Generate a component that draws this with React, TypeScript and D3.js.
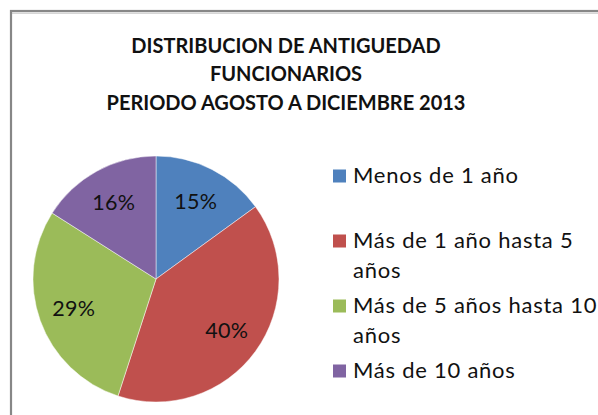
import React from "react";
import * as d3 from "d3";

const categories: string[][] = [
  ["Menos de 1 año"],
  ["Más de 1 año hasta 5", "años"],
  ["Más de 5 años hasta 10", "años"],
  ["Más de 10 años"],
];
const values: number[] = [15, 40, 29, 16];
const colors: string[] = ["#4F81BD", "#C0504D", "#9BBB59", "#8064A2"];
const titleLines: string[] = [
  "DISTRIBUCION DE ANTIGUEDAD",
  "FUNCIONARIOS",
  "PERIODO AGOSTO A DICIEMBRE 2013",
];

const W = 598;
const H = 415;
const FONT = "Lato, 'Open Sans', sans-serif";

export default function App() {
  const cx = 156;
  const cy = 279;
  const r = 123;
  const pie = d3.pie<number>().sort(null).value((d) => d);
  const arcs = pie(values);
  const arc = d3.arc<d3.PieArcDatum<number>>().innerRadius(0).outerRadius(r);
  const labelArc = d3
    .arc<d3.PieArcDatum<number>>()
    .innerRadius(87.5)
    .outerRadius(87.5);
  const total = d3.sum(values);
  const fmt = d3.format(".0%");

  const legendX = 333;
  const legendY0 = 183;
  const legendStep = 65;
  const lineH = 30;

  return (
    <svg
      width={W}
      height={H}
      style={{ position: "absolute", left: 0, top: 0, background: "#fff" }}
    >
      <rect x={0} y={0} width={W} height={H} fill="#fff" />
      <line x1={12} x2={W} y1={13.2} y2={13.2} stroke="#d6d6d6" strokeWidth={1.5} />
      <rect
        x={11}
        y={11}
        width={W + 20}
        height={H + 20}
        fill="none"
        stroke="#878787"
        strokeWidth={2.2}
      />
      <g fontFamily={FONT} fontWeight="bold" fontSize={20} fill="#111" textAnchor="middle">
        {titleLines.map((t, i) => (
          <text key={i} x={286} y={52.7 + i * 28.7}>
            {t}
          </text>
        ))}
      </g>
      <g transform={`translate(${cx},${cy})`}>
        {arcs.map((a, i) => (
          <path
            key={i}
            d={arc(a) || ""}
            fill={colors[i]}
            stroke="#ffffff"
            strokeOpacity={0.6}
            strokeWidth={0.8}
          />
        ))}
        {arcs.map((a, i) => {
          const [lx, ly] = labelArc.centroid(a);
          return (
            <text
              key={"l" + i}
              x={lx}
              y={ly}
              dy="0.35em"
              textAnchor="middle"
              fontFamily={FONT}
              fontSize={21.5}
              letterSpacing={0.3}
              fill="#111"
            >
              {fmt(a.data / total)}
            </text>
          );
        })}
      </g>
      <g fontFamily={FONT} fontSize={22} letterSpacing={0.75} fill="#111">
        {categories.map((lines, i) => {
          const y = legendY0 + i * legendStep;
          return (
            <g key={i}>
              <rect x={legendX} y={y - 13.5} width={13} height={13} fill={colors[i]} />
              {lines.map((ln, j) => (
                <text key={j} x={legendX + 20} y={y + j * lineH}>
                  {ln}
                </text>
              ))}
            </g>
          );
        })}
      </g>
    </svg>
  );
}
